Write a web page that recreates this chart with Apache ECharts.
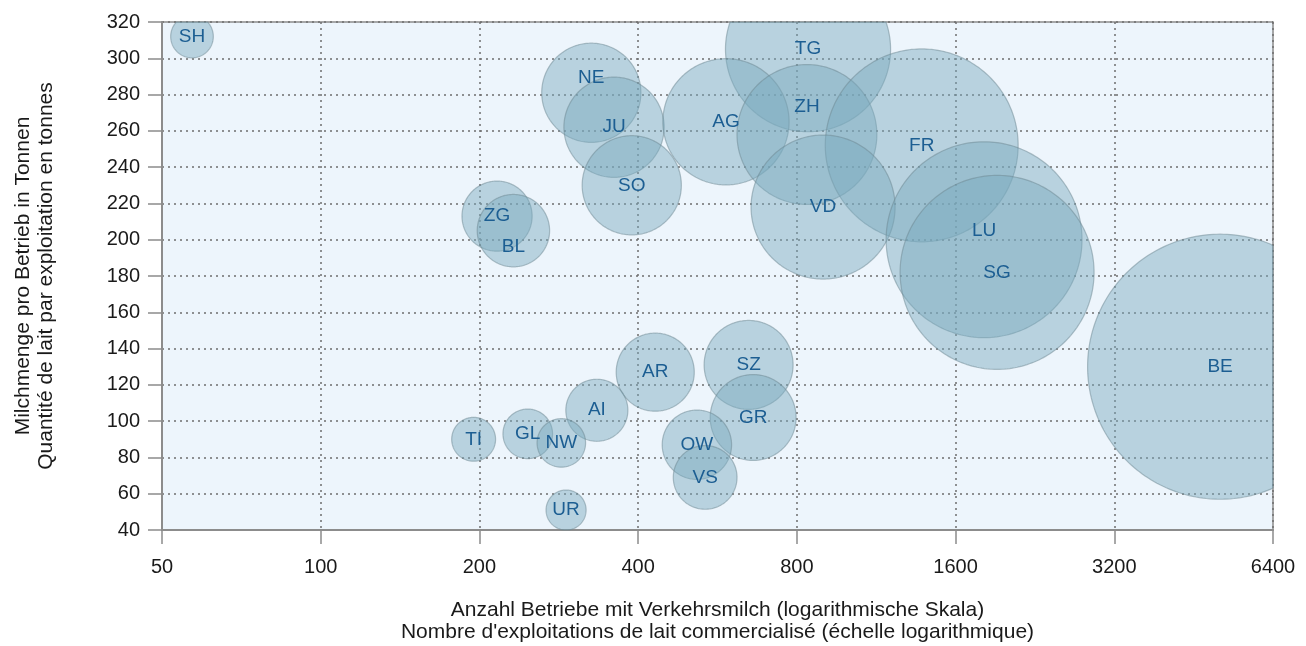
<!DOCTYPE html>
<html>
<head>
<meta charset="utf-8">
<script src="https://cdn.jsdelivr.net/npm/echarts@6/dist/echarts.min.js"></script>
<style>
  html, body { margin: 0; padding: 0; background: #fff; }
  #wrap { position: relative; width: 1306px; height: 646px; }
  #chart { width: 1306px; height: 646px; }
  .mask { position: absolute; background: #fff; pointer-events: none; }
</style>
</head>
<body>
<div id="wrap">
  <div id="chart"></div>
  <!-- bubbles are cut at the plot frame (top and right) -->
  <div class="mask" style="left:164px; top:0; width:1142px; height:21px;"></div>
  <div class="mask" style="left:1274px; top:0; width:32px; height:528px;"></div>
</div>
<script>
// Kantone
const cantons = ['SH', 'TG', 'NE', 'JU', 'AG', 'ZH', 'FR', 'SO', 'VD', 'ZG', 'BL', 'LU',
  'SG', 'BE', 'AR', 'SZ', 'GR', 'AI', 'TI', 'GL', 'NW', 'OW', 'VS', 'UR']
// Anzahl Betriebe mit Verkehrsmilch
const farms = [57, 840, 326, 360, 587, 836, 1380, 389, 897, 216, 232, 1812,
  1918, 5080, 431, 648, 661, 334, 195, 247, 286, 517, 536, 292]
// Milchmenge pro Betrieb (t)
const milkPerFarm = [312, 305, 281, 262, 265, 258, 252, 230, 218, 213, 205, 200,
  182, 130, 127, 131, 102, 106, 90, 93, 88, 87, 69, 51]
// Gesamtmenge (1000 t) -> Blasengrösse
const milkTotal = [17, 255, 92, 94, 149, 183, 348, 92, 194, 46, 49, 359,
  352, 657, 57, 74, 69, 36, 18, 23, 22, 45, 38, 15]

const xTicks = [50, 100, 200, 400, 800, 1600, 3200, 6400]

// label nudges where bubbles overlap (px)
const labelShift = {NE: -15, ZH: -28, BL: 16, LU: -9}
const radiusK = 5.17
const font = 'Liberation Sans, Arial, sans-serif'
const frameColor = '#8c8c8c'
const W = 1306, H = 646
const gridBox = {left: 162, right: 33, top: 22, bottom: 116}
const plot = {l: gridBox.left, t: gridBox.top, r: W - gridBox.right, b: H - gridBox.bottom}

const clamp = (v, a, b) => Math.min(Math.max(v, a), b)

const chart = echarts.init(document.getElementById('chart'))

const data = cantons.map((c, i) => [farms[i], milkPerFarm[i], milkTotal[i]])

chart.setOption({
  backgroundColor: '#fff',
  animation: false,
  textStyle: {fontFamily: font},
  grid: {
    ...gridBox,
    outerBoundsMode: 'none',
    containLabel: false,
    show: true, backgroundColor: '#edf5fc', borderColor: frameColor, borderWidth: 1.5
  },
  xAxis: {
    type: 'log',
    logBase: 2,
    min: 50,
    max: 6400,
    name: 'Anzahl Betriebe mit Verkehrsmilch (logarithmische Skala)\nNombre d\'exploitations de lait commercialisé (échelle logarithmique)',
    nameLocation: 'middle',
    nameGap: 69,
    nameTextStyle: {fontSize: 21, color: '#1a1a1a', lineHeight: 22},
    axisLine: {show: true, lineStyle: {color: frameColor, width: 2}},
    axisTick: {show: true, inside: false, length: 14, customValues: xTicks, lineStyle: {color: frameColor, width: 1.5}},
    axisLabel: {customValues: xTicks, margin: 27, fontSize: 20, color: '#1a1a1a', formatter: v => String(Math.round(v))},
    splitLine: {show: true, lineStyle: {color: '#6e6e6e', type: [2, 4], width: 1.5}}
  },
  yAxis: {
    type: 'value',
    min: 40,
    max: 320,
    interval: 20,
    name: 'Milchmenge pro Betrieb in Tonnen\nQuantité de lait par exploitation en tonnes',
    nameLocation: 'middle',
    nameGap: 104,
    nameTextStyle: {fontSize: 21, color: '#1a1a1a', lineHeight: 23},
    axisLine: {show: true, lineStyle: {color: frameColor, width: 2}},
    axisTick: {show: true, inside: false, length: 14, lineStyle: {color: frameColor, width: 1.5}},
    axisLabel: {margin: 22, fontSize: 20, color: '#1a1a1a'},
    splitLine: {show: true, lineStyle: {color: '#6e6e6e', type: [2, 4], width: 1.5}}
  },
  series: [{
    type: 'custom',
    encode: {x: 0, y: 1},
    data: data,
    renderItem: (params, api) => {
      const pt = api.coord([api.value(0), api.value(1)])
      const r = radiusK * Math.sqrt(api.value(2))
      const name = cantons[params.dataIndex]
      // outline clamped to the plot frame
      const pts = []
      for (let i = 0; i < 240; i++) {
        const t = i / 240 * Math.PI * 2
        pts.push([
          clamp(pt[0] + r * Math.cos(t), plot.l, plot.r),
          clamp(pt[1] + r * Math.sin(t), plot.t, plot.b)
        ])
      }
      return {
        type: 'group',
        children: [{
          type: 'polygon',
          shape: {points: pts},
          style: {fill: 'rgba(120,168,188,0.45)', stroke: 'rgba(110,135,145,0.5)', lineWidth: 1.2}
        }, {
          type: 'text',
          z2: 100,
          x: pt[0],
          y: pt[1] + (labelShift[name] || 0),
          style: {
            text: name, fill: '#1c5e92', fontSize: 19, fontFamily: font,
            align: 'center', verticalAlign: 'middle'
          }
        }]
      }
    }
  }]
})
</script>
</body>
</html>
